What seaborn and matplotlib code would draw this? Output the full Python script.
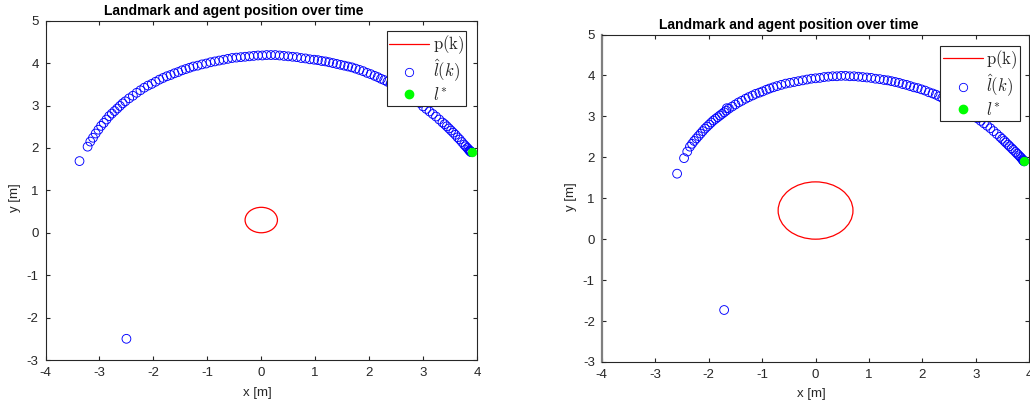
import matplotlib
matplotlib.use("Agg")
import matplotlib.pyplot as plt
from matplotlib.patches import Ellipse
from matplotlib.lines import Line2D
import seaborn as sns
import pandas as pd

# ---------------- data ----------------
# Run 1: landmark estimates l_hat(k)
est1_x = [-2.50, -3.37, -3.22,
          -3.17, -3.12, -3.07, -3.02, -2.97, -2.92, -2.87, -2.82, -2.77, -2.72, -2.67, -2.62, -2.57, -2.52,
          -2.45, -2.38, -2.31, -2.24, -2.17, -2.10, -2.03, -1.96, -1.89, -1.82, -1.75, -1.68, -1.61, -1.54,
          -1.47, -1.40, -1.33,
          -1.26, -1.18, -1.10, -1.02, -0.94, -0.86, -0.78, -0.70, -0.62, -0.54, -0.46, -0.38, -0.30, -0.22,
          -0.14, -0.06, 0.02, 0.10, 0.18, 0.26, 0.34, 0.42, 0.50, 0.58, 0.66, 0.74, 0.82, 0.90, 0.98,
          1.05, 1.12, 1.19, 1.26, 1.33, 1.40, 1.47, 1.54, 1.61, 1.68, 1.75, 1.82, 1.89, 1.96, 2.03, 2.10,
          2.16, 2.22, 2.28, 2.34, 2.40, 2.46, 2.52, 2.58, 2.64, 2.70, 2.76, 2.82, 2.88, 2.94, 3.00, 3.06,
          3.12, 3.18, 3.24, 3.30, 3.36,
          3.40, 3.44, 3.48, 3.52, 3.56, 3.60, 3.64, 3.68, 3.72, 3.76, 3.79, 3.82, 3.84, 3.86, 3.87, 3.88,
          3.89, 3.89]
est1_y = [-2.50, 1.69, 2.03,
          2.15, 2.24, 2.34, 2.43, 2.52, 2.59, 2.67, 2.75, 2.81, 2.87, 2.93, 2.99, 3.05, 3.10,
          3.17, 3.23, 3.30, 3.36, 3.42, 3.47, 3.51, 3.56, 3.61, 3.65, 3.69, 3.72, 3.76, 3.79,
          3.83, 3.86, 3.89,
          3.92, 3.94, 3.97, 3.99, 4.02, 4.04, 4.06, 4.08, 4.10, 4.12, 4.13, 4.14, 4.15, 4.16,
          4.17, 4.18, 4.18, 4.19, 4.19, 4.19, 4.18, 4.17, 4.16, 4.15, 4.14, 4.12, 4.11, 4.09, 4.08,
          4.07, 4.05, 4.04, 4.02, 4.00, 3.98, 3.96, 3.94, 3.92, 3.90, 3.87, 3.84, 3.81, 3.77, 3.74, 3.70,
          3.67, 3.63, 3.60, 3.56, 3.52, 3.48, 3.44, 3.40, 3.36, 3.31, 3.26, 3.20, 3.13, 3.06, 2.98, 2.92,
          2.86, 2.80, 2.74, 2.67, 2.60,
          2.56, 2.51, 2.46, 2.41, 2.36, 2.31, 2.25, 2.20, 2.14, 2.08, 2.04, 2.00, 1.97, 1.94, 1.93, 1.92,
          1.91, 1.90]

# Run 2: landmark estimates l_hat(k)
est2_x = [-1.71, -2.59, -2.46, -2.40,
          -2.35, -2.31, -2.27, -2.23, -2.19, -2.15, -2.11, -2.07, -2.03, -1.99, -1.95, -1.91, -1.87, -1.83,
          -1.79, -1.75, -1.71, -1.67, -1.66,
          -1.62, -1.56, -1.50, -1.44, -1.38, -1.31, -1.25, -1.18, -1.12, -1.05, -0.99, -0.92, -0.86, -0.79,
          -0.72, -0.64, -0.56, -0.48, -0.40, -0.32, -0.24, -0.16, -0.08, 0.00, 0.08, 0.16, 0.24, 0.32,
          0.40, 0.48, 0.56, 0.64, 0.72, 0.80, 0.88, 0.96, 1.04, 1.12, 1.20, 1.28,
          1.35, 1.42, 1.49, 1.56, 1.63, 1.70, 1.77, 1.84, 1.91, 1.98, 2.05, 2.12, 2.19,
          2.25, 2.31, 2.37, 2.43, 2.49, 2.55, 2.61, 2.67, 2.73, 2.79, 2.85, 2.91, 2.97, 3.03, 3.09, 3.15,
          3.21, 3.27, 3.33, 3.39, 3.45,
          3.49, 3.53, 3.56, 3.60, 3.63, 3.67, 3.70, 3.74, 3.77, 3.80, 3.83, 3.85, 3.87, 3.88, 3.89, 3.90,
          3.90]
est2_y = [-1.73, 1.60, 1.98, 2.14,
          2.26, 2.33, 2.40, 2.46, 2.52, 2.58, 2.64, 2.70, 2.75, 2.80, 2.85, 2.90, 2.94, 2.98,
          3.02, 3.06, 3.10, 3.14, 3.20,
          3.19, 3.24, 3.29, 3.34, 3.38, 3.43, 3.47, 3.51, 3.55, 3.58, 3.61, 3.65, 3.68, 3.71,
          3.74, 3.77, 3.80, 3.82, 3.84, 3.86, 3.88, 3.90, 3.92, 3.93, 3.94, 3.96, 3.97, 3.98,
          3.98, 3.99, 3.99, 3.98, 3.98, 3.97, 3.96, 3.95, 3.94, 3.92, 3.91, 3.89,
          3.88, 3.86, 3.84, 3.82, 3.79, 3.77, 3.74, 3.71, 3.69, 3.66, 3.63, 3.59, 3.56,
          3.53, 3.49, 3.45, 3.41, 3.37, 3.33, 3.29, 3.24, 3.20, 3.15, 3.10, 3.05, 3.00, 2.95, 2.89, 2.83,
          2.77, 2.71, 2.64, 2.57, 2.50,
          2.45, 2.40, 2.36, 2.31, 2.27, 2.22, 2.18, 2.13, 2.09, 2.05, 2.01, 1.98, 1.95, 1.93, 1.92, 1.91,
          1.90]

# True landmark l*
landmark_x = [3.9]
landmark_y = [1.9]

# Agent trajectory p(k): circular path (centre x, centre y, radius) per run
agent1 = [0.0, 0.3, 0.3]
agent2 = [0.0, 0.7, 0.7]

x_ticks = [-4, -3, -2, -1, 0, 1, 2, 3, 4]
y_ticks = [-3, -2, -1, 0, 1, 2, 3, 4, 5]

title = "Landmark and agent position over time"
legend_labels = [r"$\mathrm{p(k)}$", r"$\hat{l}(k)$", r"$l^{*}$"]

# ---------------- style ----------------
sns.set_theme(style="white")
plt.rcParams["font.family"] = ["Liberation Sans", "DejaVu Sans"]
plt.rcParams["mathtext.fontset"] = "cm"
plt.rcParams.update({
    "axes.unicode_minus": False,
    "xtick.direction": "in", "ytick.direction": "in",
    "xtick.top": True, "ytick.right": True,
    "xtick.bottom": True, "ytick.left": True,
    "xtick.major.size": 3, "ytick.major.size": 3,
    "xtick.major.width": 0.8, "ytick.major.width": 0.8,
    "axes.edgecolor": "#262626", "axes.linewidth": 0.8,
    "xtick.color": "#262626", "ytick.color": "#262626",
})

AX_DARK = "#262626"
BLUE = (0, 0, 1)
GREEN = (0, 1, 0)

fig = plt.figure(figsize=(10.30, 4.05), dpi=100)
ax1 = fig.add_axes([0.0442, 0.1111, 0.4189, 0.8378])
ax2 = fig.add_axes([0.5842, 0.1062, 0.4152, 0.8086])

panels = [
    (ax1, est1_x, est1_y, agent1, (0.9756, 0.9696), (0.49, -0.08), (-0.057, 0.48)),
    (ax2, est2_x, est2_y, agent2, (0.978, 0.965), (0.491, -0.079), (-0.058, 0.504)),
]

for ax, ex, ey, agent, leg_anchor, xlab_pos, ylab_pos in panels:
    # agent path
    cx, cy, r = agent
    ax.add_patch(Ellipse((cx, cy), 2 * r, 2 * r, fill=False,
                         edgecolor="red", linewidth=0.9, zorder=2))
    # landmark estimates
    df = pd.DataFrame({"x": ex, "y": ey})
    sns.scatterplot(data=df, x="x", y="y", ax=ax, marker="o", s=40,
                    facecolor="none", edgecolor=BLUE, linewidth=0.65,
                    legend=False, zorder=3)
    # true landmark
    sns.scatterplot(x=landmark_x, y=landmark_y, ax=ax, marker="o", s=38,
                    color=GREEN, edgecolor=GREEN, linewidth=0.6,
                    legend=False, zorder=4)

    ax.set_xlim(-4, 4)
    ax.set_ylim(-3, 5)
    ax.set_xticks(x_ticks)
    ax.set_yticks(y_ticks)
    ax.tick_params(axis="both", labelsize=9.5, pad=5, labelcolor=AX_DARK)
    for sp in ax.spines.values():
        sp.set_visible(True)
        sp.set_color(AX_DARK)
        sp.set_linewidth(0.8)

    ax.set_xlabel("x [m]", fontsize=9.5, color=AX_DARK)
    ax.set_ylabel("y [m]", fontsize=9.5, color=AX_DARK)
    ax.xaxis.set_label_coords(*xlab_pos)
    ax.yaxis.set_label_coords(*ylab_pos)
    ax.set_title(title, fontsize=10, fontweight="bold", color="black",
                 x=0.437, pad=4)

    handles = [
        Line2D([], [], color="red", linewidth=0.9),
        Line2D([], [], marker="o", linestyle="none", markerfacecolor="none",
               markeredgecolor=BLUE, markersize=6, markeredgewidth=0.6),
        Line2D([], [], marker="o", linestyle="none", markerfacecolor=GREEN,
               markeredgecolor=GREEN, markersize=6),
    ]
    leg = ax.legend(handles, legend_labels, loc="upper right",
                    bbox_to_anchor=leg_anchor, borderaxespad=0,
                    fontsize=12, frameon=True, fancybox=False, framealpha=1,
                    edgecolor=AX_DARK, handlelength=2.4, handletextpad=0.2,
                    labelspacing=0.1, borderpad=0.15)
    leg.get_frame().set_linewidth(0.8)
    leg.set_zorder(10)

# left spine of the second panel is drawn in a lighter grey
ax2.spines["left"].set_color("#7f7f7f")
ax2.spines["left"].set_linewidth(1.6)

fig.savefig("out.png", dpi=100)
